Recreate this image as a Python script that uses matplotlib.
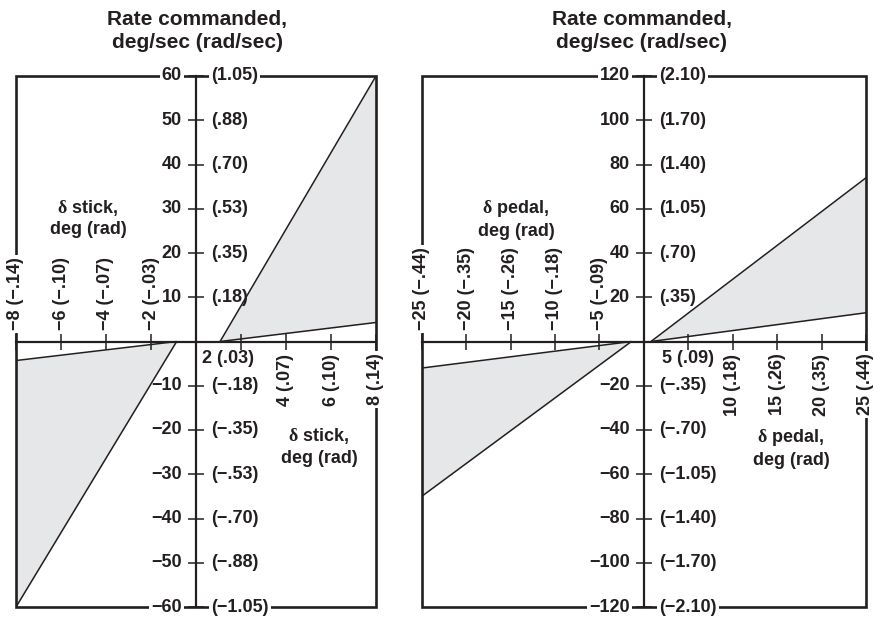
import matplotlib
matplotlib.use('Agg')
import matplotlib.pyplot as plt
import matplotlib.transforms as mtransforms
from matplotlib.patches import Rectangle

plt.rcParams['font.family'] = ['Liberation Sans', 'DejaVu Sans']
plt.rcParams['font.weight'] = 'bold'
plt.rcParams['mathtext.fontset'] = 'custom'
plt.rcParams['mathtext.rm'] = 'Liberation Serif'
plt.rcParams['mathtext.it'] = 'Liberation Serif'
plt.rcParams['mathtext.bf'] = 'Liberation Serif'

INK = '#231f20'
FILL = '#e6e7e8'

# ---------------- data: stick (left panel) ----------------
stick_title = 'Rate commanded,\ndeg/sec (rad/sec)'
stick_xlabel = r'$\mathrm{\delta}$ stick,' + '\ndeg (rad)'
stick_xticks = [-8, -6, -4, -2, 2, 4, 6, 8]
stick_xticklabels = ['−8 (−.14)', '−6 (−.10)', '−4 (−.07)', '−2 (−.03)',
                     '2 (.03)', '4 (.07)', '6 (.10)', '8 (.14)']
stick_yticks = [60, 50, 40, 30, 20, 10, -10, -20, -30, -40, -50, -60]
stick_ydeg = ['60', '50', '40', '30', '20', '10',
              '−10', '−20', '−30', '−40', '−50', '−60']
stick_yrad = ['(1.05)', '(.88)', '(.70)', '(.53)', '(.35)', '(.18)',
              '(−.18)', '(−.35)', '(−.53)', '(−.70)', '(−.88)', '(−1.05)']
stick_pos_x = [1.07, 8.0]
stick_pos_steep = [0.0, 60.0]
stick_pos_shallow = [0.0, 4.3]
stick_neg_x = [-0.86, -8.0]
stick_neg_steep = [0.0, -60.0]
stick_neg_shallow = [0.0, -4.3]

# ---------------- data: pedal (right panel) ----------------
pedal_title = 'Rate commanded,\ndeg/sec (rad/sec)'
pedal_xlabel = r'$\mathrm{\delta}$ pedal,' + '\ndeg (rad)'
pedal_xticks = [-25, -20, -15, -10, -5, 5, 10, 15, 20, 25]
pedal_xticklabels = ['−25 (−.44)', '−20 (−.35)', '−15 (−.26)', '−10 (−.18)',
                     '−5 (−.09)', '5 (.09)', '10 (.18)', '15 (.26)',
                     '20 (.35)', '25 (.44)']
pedal_yticks = [120, 100, 80, 60, 40, 20, -20, -40, -60, -80, -100, -120]
pedal_ydeg = ['120', '100', '80', '60', '40', '20',
              '−20', '−40', '−60', '−80', '−100', '−120']
pedal_yrad = ['(2.10)', '(1.70)', '(1.40)', '(1.05)', '(.70)', '(.35)',
              '(−.35)', '(−.70)', '(−1.05)', '(−1.40)', '(−1.70)', '(−2.10)']
pedal_pos_x = [0.8, 25.0]
pedal_pos_steep = [0.0, 74.0]
pedal_pos_shallow = [0.0, 13.0]
pedal_neg_x = [-1.4, -25.0]
pedal_neg_steep = [0.0, -70.0]
pedal_neg_shallow = [0.0, -12.0]

FS = 13
WHITE_BOX = dict(facecolor='white', edgecolor='none', boxstyle='square,pad=0.12')

fig = plt.figure(figsize=(8.74, 6.2), dpi=100)


def off(ax, dx, dy):
    return mtransforms.offset_copy(ax.transData, fig=fig, x=dx, y=dy, units='dots')


def panel(ax, xmax, ymax, xticks, xticklabels, yticks, ydeg, yrad,
          pos_x, pos_steep, pos_shallow, neg_x, neg_steep, neg_shallow,
          horiz_tick, horiz_dx):
    ax.set_xlim(-xmax, xmax)
    ax.set_ylim(-ymax, ymax)
    for s in ('top', 'right'):
        ax.spines[s].set_visible(False)
    ax.spines['left'].set_position(('data', 0))
    ax.spines['bottom'].set_position(('data', 0))
    for s in ('left', 'bottom'):
        ax.spines[s].set_linewidth(1.6)
        ax.spines[s].set_color(INK)
    ax.add_patch(Rectangle((0, 0), 1, 1, transform=ax.transAxes, fill=False,
                           lw=1.9, edgecolor=INK, clip_on=False, zorder=1.5))
    ax.set_xticks(xticks)
    ax.set_yticks(yticks)
    ax.tick_params(axis='x', direction='inout', length=11, width=1.1,
                   color=INK, labelbottom=False)
    ax.tick_params(axis='y', direction='inout', length=12, width=1.1,
                   color=INK, labelleft=False)

    ax.fill_between(pos_x, pos_steep, pos_shallow, color=FILL, lw=0, zorder=1)
    ax.fill_between(neg_x, neg_steep, neg_shallow, color=FILL, lw=0, zorder=1)
    for xs, ys in ((pos_x, pos_steep), (pos_x, pos_shallow),
                   (neg_x, neg_steep), (neg_x, neg_shallow)):
        ax.plot(xs, ys, color=INK, lw=1.1, zorder=2, solid_capstyle='butt')

    # y labels
    for y, d, r in zip(yticks, ydeg, yrad):
        edge = abs(y) == ymax
        kw = dict(bbox=WHITE_BOX) if edge else {}
        ax.text(0, y, d, transform=off(ax, -14, 0), ha='right', va='center',
                fontsize=FS, color=INK, **kw)
        ax.text(0, y, r, transform=off(ax, 15, 0), ha='left', va='center',
                fontsize=FS, color=INK, **kw)

    # x labels
    for x, lab in zip(xticks, xticklabels):
        edge = abs(x) == xmax
        kw = dict(bbox=WHITE_BOX) if edge else {}
        if x == horiz_tick:
            ax.text(x, 0, lab, transform=off(ax, horiz_dx, -17), ha='center',
                    va='center', fontsize=FS, color=INK)
        elif x < 0:
            ax.text(x, 0, lab, transform=off(ax, 0, 11), rotation=90,
                    ha='center', va='bottom', fontsize=FS, color=INK, **kw)
        else:
            ax.text(x, 0, lab, transform=off(ax, 0, -12), rotation=90,
                    ha='center', va='top', fontsize=FS, color=INK, **kw)

    return ax


ax1 = fig.add_axes([16 / 874, 13 / 620, 360 / 874, 531 / 620])
panel(ax1, 8, 60, stick_xticks, stick_xticklabels, stick_yticks, stick_ydeg,
      stick_yrad, stick_pos_x, stick_pos_steep, stick_pos_shallow,
      stick_neg_x, stick_neg_steep, stick_neg_shallow, 2, -13.5)
ax1.text(-4.8, 27.9, stick_xlabel, ha='center', va='center', fontsize=FS,
         color=INK, linespacing=1.3)
ax1.text(5.47, -23.7, stick_xlabel, ha='center', va='center', fontsize=FS,
         color=INK, linespacing=1.3)

ax2 = fig.add_axes([421.7 / 874, 13 / 620, 444.3 / 874, 531 / 620])
panel(ax2, 25, 120, pedal_xticks, pedal_xticklabels, pedal_yticks, pedal_ydeg,
      pedal_yrad, pedal_pos_x, pedal_pos_steep, pedal_pos_shallow,
      pedal_neg_x, pedal_neg_steep, pedal_neg_shallow, 5, 0)
ax2.text(-14.4, 55.2, pedal_xlabel, ha='center', va='center', fontsize=FS,
         color=INK, linespacing=1.3)
ax2.text(16.55, -48.2, pedal_xlabel, ha='center', va='center', fontsize=FS,
         color=INK, linespacing=1.3)

fig.text(197 / 874, 1 - 31 / 620, stick_title, ha='center', va='center',
         fontsize=15, color=INK, linespacing=1.3)
fig.text(642 / 874, 1 - 31 / 620, pedal_title, ha='center', va='center',
         fontsize=15, color=INK, linespacing=1.3)

fig.savefig('out.png', dpi=100)
